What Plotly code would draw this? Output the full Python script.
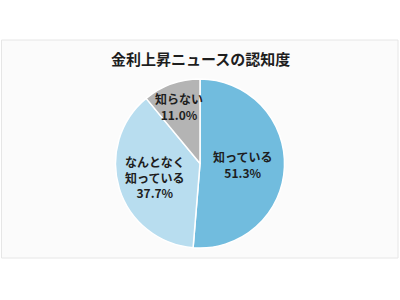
import plotly.graph_objects as go

# Survey results: awareness of interest-rate-hike news
labels = ["知っている", "なんとなく<br>知っている", "知らない"]
values = [51.3, 37.7, 11.0]
colors = ["#71bcde", "#b8ddef", "#b4b4b4"]

W, H = 400, 300
cx, cy, r = 200, 163.5, 84.5  # pie centre / radius in pixels

FONT = "Noto Sans CJK JP"

fig = go.Figure()
fig.add_trace(go.Pie(
    labels=labels,
    values=values,
    sort=False,
    direction="clockwise",
    rotation=0,
    marker=dict(colors=colors, line=dict(color="#ffffff", width=1.5)),
    textinfo="none",
    hoverinfo="label+value",
    showlegend=False,
    domain=dict(x=[(cx - r) / W, (cx + r) / W], y=[1 - (cy + r) / H, 1 - (cy - r) / H]),
))

# Data labels (label + percentage) placed in each slice
label_pos = [(242, 164.5), (155, 176.5), (179, 106.5)]
annotations = []
for lab, val, (px, py) in zip(labels, values, label_pos):
    annotations.append(dict(
        x=px / W, y=1 - py / H, xref="paper", yref="paper",
        text=f"<b>{lab}<br>{val:.1f}%</b>", showarrow=False,
        font=dict(family=FONT, size=12, color="#1e1e1e"),
        align="center", xanchor="center", yanchor="middle",
    ))

# Title
annotations.append(dict(
    x=0.5, y=1 - 58 / H, xref="paper", yref="paper",
    text="<b>金利上昇ニュースの認知度</b>", showarrow=False,
    font=dict(family=FONT, size=15, color="#1e1e1e"),
    xanchor="center", yanchor="middle",
))

fig.update_layout(
    width=W, height=H,
    margin=dict(l=0, r=0, t=0, b=0),
    paper_bgcolor="#ffffff",
    plot_bgcolor="#ffffff",
    annotations=annotations,
    shapes=[dict(
        type="rect", xref="paper", yref="paper",
        x0=1.5 / W, x1=398 / W, y0=1 - 258 / H, y1=1 - 40 / H,
        fillcolor="#fbfbfb", line=dict(color="#e6e6e6", width=1),
        layer="below",
    )],
)

fig.write_html("out.html")
